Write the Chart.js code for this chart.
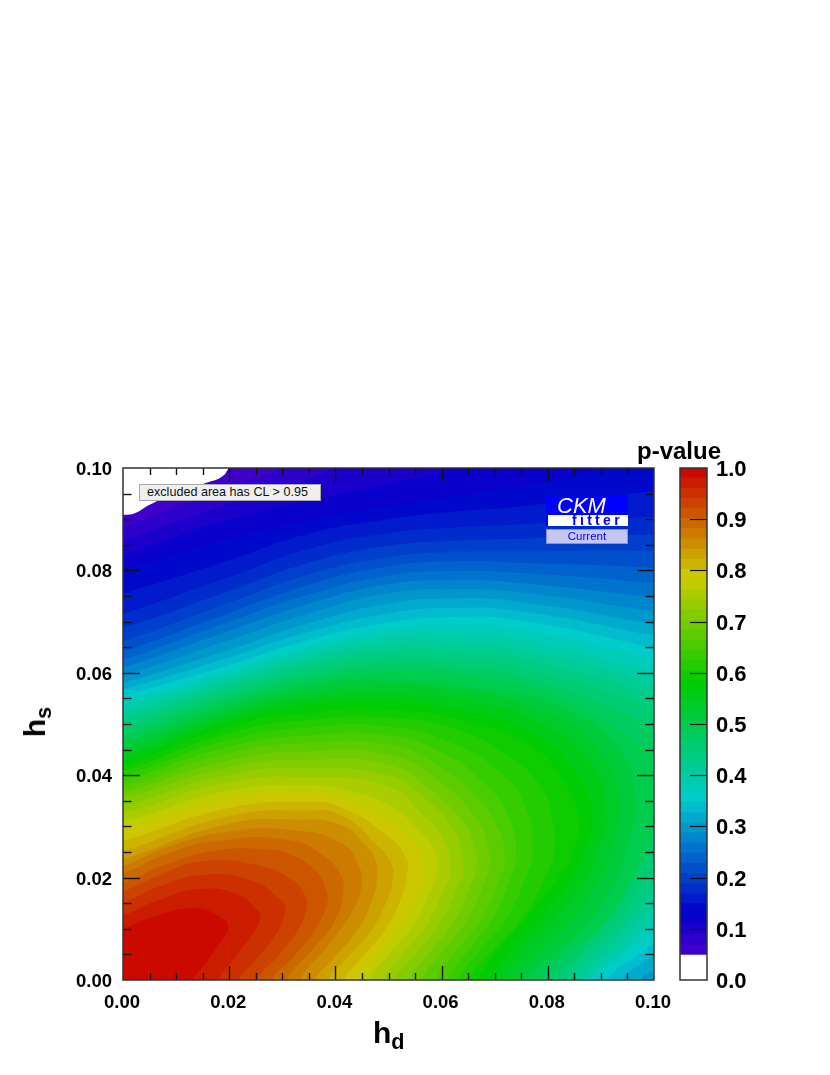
<!DOCTYPE html>
<html>
<head>
<meta charset="utf-8">
<title>p-value</title>
<script src="https://cdn.jsdelivr.net/npm/chart.js@4/dist/chart.umd.min.js"></script>
<style>
    html, body { margin: 0; padding: 0; background: #fff; }
    body { position: relative; width: 830px; height: 1075px; overflow: hidden; font-family: "Liberation Sans", Arial, sans-serif; color: #000; }
    canvas { position: absolute; }
    .label { position: absolute; white-space: nowrap; font-weight: bold; line-height: 1; }
    .label sub { font-size: 0.72em; vertical-align: baseline; position: relative; top: 0.3em; }
    #note { position: absolute; left: 139px; top: 484px; width: 180px; height: 15px; background: #efefef; border: 1px solid #aaa; font-size: 12.6px; line-height: 15px; text-indent: 7px; color: #111; }
    #logo { position: absolute; left: 546px; top: 495px; width: 82px; height: 31px; background: #00f; }
    #logo .ckm { position: absolute; left: 11px; top: 0; font-size: 22px; font-style: italic; color: #fff; line-height: 22px; }
    #logo .fitter { position: absolute; left: 2px; top: 20px; width: 80px; height: 11px; background: #fff; color: #00f; font-size: 14px; font-weight: bold; line-height: 11px; letter-spacing: 3.3px; text-indent: 24px; }
    #current { position: absolute; left: 546px; top: 529px; width: 80px; height: 13px; background: #c6c6f2; border: 1px solid #8e8ee0; color: #00f; font-size: 11.5px; line-height: 13px; text-align: center; }
</style>
</head>
<body>
<canvas id="mainChart" width="690" height="600" style="left:0;top:440px"></canvas>
<canvas id="barChart" width="170" height="600" style="left:660px;top:440px"></canvas>
<div class="label" style="left:637px;top:439px;font-size:24px">p-value</div>
<div class="label" style="left:373px;top:1018px;font-size:30px">h<sub>d</sub></div>
<div class="label" style="left:35px;top:722px;font-size:30px;transform:translate(-50%,-50%) rotate(-90deg)">h<sub>s</sub></div>
<div id="note">excluded area has CL &gt; 0.95</div>
<div id="logo"><span class="ckm">CKM</span><div class="fitter">fitter</div></div>
<div id="current">Current</div>
<script>
// lower edge of each colour band of the p-value scale
const bandLevels = [
    0.0500, 0.0698, 0.0896, 0.1094, 0.1292, 0.1490, 0.1688, 0.1886, 0.2084, 0.2282, 0.2480, 0.2678,
    0.2876, 0.3074, 0.3272, 0.3470, 0.3668, 0.3866, 0.4064, 0.4262, 0.4460, 0.4658, 0.4856, 0.5054,
    0.5252, 0.5450, 0.5648, 0.5846, 0.6044, 0.6242, 0.6440, 0.6638, 0.6836, 0.7034, 0.7232, 0.7430,
    0.7628, 0.7826, 0.8024, 0.8222, 0.8420, 0.8618, 0.8816, 0.9014, 0.9212, 0.9410, 0.9608, 0.9806,
];
const bandTop = 1.0;

// iso-p contours, [hd, hs], one outline per band level.
// Outlines run past the frame so that the fill reaches the axes.
const contours = [
    [[-.01,-.01],[-.004,.0905],[0,.0908],[.0023,.0912],[.005,.0928],[.0101,.0951],[.0157,.0971],[.0186,.0983],[.0198,.0998],[.022,.104],[.11,.11],[.11,-.01]],
    [[-.01,-.01],[-.004,.0878],[0,.0885],[.01,.0925],[.02,.0965],[.03,.1],[.033,.103],[.11,.11],[.11,-.01]],
    [[-.01,-.01],[-.004,.0853],[0,.086],[.01,.0895],[.02,.093],[.04,.1],[.043,.103],[.11,.11],[.11,-.01]],
    [[-.01,-.01],[-.004,.0822],[0,.083],[.02,.09],[.05,.097],[.062,.1],[.066,.103],[.11,.11],[.11,-.01]],
    [[-.01,-.01],[-.004,.0792],[0,.08],[.02,.0862],[.035,.0897],[.05,.0925],[.075,.0965],[.09,.1],[.094,.103],[.11,.11],[.11,-.01]],
    [[-.01,-.01],[-.004,.0745],[0,.0755],[.02,.082],[.035,.0872],[.05,.09],[.0625,.0915],[.075,.0925],[.1,.0955],[.104,.096],[.11,-.01]],
    [[-.01,-.01],[-.004,.0705],[0,.0715],[.02,.0787],[.035,.0842],[.05,.0873],[.0625,.0884],[.075,.089],[.1,.0905],[.104,.0905],[.11,-.01]],
    [[-.01,-.01],[-.004,.068],[0,.0688],[.02,.076],[.035,.0815],[.05,.0848],[.0625,.0858],[.075,.0862],[.1,.087],[.104,.0865],[.11,-.01]],
    [[-.01,-.01],[-.004,.0655],[0,.0662],[.02,.0737],[.035,.0792],[.05,.0826],[.0625,.0836],[.075,.0837],[.1,.0838],[.104,.0832],[.11,-.01]],
    [[-.01,-.01],[-.004,.0635],[0,.0642],[.02,.0717],[.035,.0772],[.05,.0808],[.0625,.0818],[.075,.0815],[.1,.0805],[.104,.0798],[.11,-.01]],
    [[-.01,-.01],[-.004,.0618],[0,.0625],[.02,.07],[.035,.0753],[.05,.079],[.0625,.0799],[.075,.0795],[.1,.0775],[.104,.0768],[.11,-.01]],
    [[-.01,-.01],[-.004,.0603],[0,.061],[.02,.0682],[.035,.0735],[.05,.0773],[.0625,.0781],[.075,.0775],[.1,.0747],[.104,.074],[.11,-.01]],
    [[-.01,-.01],[-.004,.0588],[0,.0595],[.02,.0664],[.035,.0716],[.05,.0755],[.0625,.0763],[.075,.0757],[.1,.072],[.104,.0712],[.11,-.01]],
    [[-.01,-.01],[-.004,.0573],[0,.058],[.02,.0645],[.035,.0697],[.05,.0735],[.0625,.0745],[.075,.0738],[.1,.0695],[.104,.0685],[.104,.003],[.1,.0018],[.0975,0],[.097,-.004]],
    [[-.01,-.01],[-.004,.0561],[0,.0568],[.02,.063],[.035,.068],[.05,.0716],[.0625,.0727],[.075,.072],[.1,.0672],[.104,.066],[.104,.006],[.1,.0047],[.097,.0028],[.094,0],[.0935,-.004]],
    [[-.01,-.01],[-.004,.0549],[0,.0556],[.02,.0615],[.035,.0664],[.05,.0698],[.0625,.0709],[.075,.0702],[.1,.0648],[.104,.0635],[.104,.0085],[.1,.007],[.0962,.0044],[.0912,0],[.0905,-.004]],
    [[-.01,-.01],[-.004,.0538],[0,.0545],[.02,.0605],[.035,.0653],[.05,.0685],[.0625,.0692],[.075,.0684],[.1,.0625],[.104,.061],[.104,.011],[.1,.0093],[.0955,.0058],[.089,0],[.0885,-.004]],
    [[-.01,-.01],[-.004,.0526],[0,.0533],[.02,.0595],[.035,.0641],[.05,.0671],[.0625,.0675],[.075,.0665],[.1,.06],[.104,.0585],[.104,.013],[.1,.0115],[.0955,.0072],[.0876,0],[.087,-.004]],
    [[-.01,-.01],[-.004,.0514],[0,.0521],[.02,.0585],[.035,.063],[.05,.0657],[.0625,.0658],[.075,.0645],[.1,.058],[.104,.056],[.104,.016],[.1,.0143],[.095,.0088],[.086,0],[.0855,-.004]],
    [[-.01,-.01],[-.004,.0503],[0,.051],[.02,.0575],[.035,.0618],[.05,.0643],[.0625,.0641],[.075,.0628],[.1,.0555],[.104,.053],[.104,.02],[.1,.0175],[.0945,.0105],[.0843,0],[.0838,-.004]],
    [[-.01,-.01],[-.004,.0491],[0,.0498],[.02,.0565],[.035,.0607],[.05,.0629],[.0625,.0625],[.075,.061],[.1,.053],[.104,.05],[.104,.0235],[.1,.0215],[.0935,.012],[.0825,0],[.082,-.004]],
    [[-.01,-.01],[-.004,.0479],[0,.0486],[.02,.0555],[.035,.0595],[.05,.0615],[.0625,.0609],[.075,.0593],[.1,.0495],[.104,.046],[.104,.0275],[.1,.0255],[.0925,.0135],[.0855,.005],[.0807,0],[.08,-.004]],
    [[-.01,-.01],[-.004,.0467],[0,.0474],[.02,.0545],[.035,.0584],[.05,.0602],[.07,.0585],[.085,.054],[.1,.044],[.104,.043],[.104,.03],[.1,.0285],[.0957,.0195],[.09,.0105],[.0825,.0045],[.0787,0],[.078,-.004]],
    [[-.01,-.01],[-.004,.0455],[0,.0462],[.02,.0535],[.035,.0573],[.05,.0588],[.07,.0565],[.082,.0535],[.0925,.046],[.0965,.036],[.095,.0265],[.0927,.0195],[.087,.0105],[.08,.004],[.0764,0],[.0757,-.004]],
    [[-.01,-.01],[-.004,.0443],[0,.045],[.02,.0525],[.035,.0561],[.05,.0574],[.065,.0562],[.08,.052],[.09,.0445],[.0935,.034],[.092,.026],[.0897,.0195],[.084,.011],[.0775,.0045],[.0738,0],[.0731,-.004]],
    [[-.01,-.01],[-.004,.0432],[0,.0439],[.02,.0515],[.035,.055],[.05,.0559],[.065,.0545],[.078,.0505],[.0875,.043],[.091,.033],[.0895,.026],[.087,.0195],[.081,.0115],[.075,.005],[.0713,0],[.0706,-.004]],
    [[-.01,-.01],[-.004,.0421],[0,.0428],[.02,.0505],[.035,.0538],[.05,.0544],[.065,.0525],[.0775,.048],[.085,.041],[.0885,.032],[.087,.0255],[.0843,.0195],[.0785,.012],[.0725,.005],[.069,0],[.0683,-.004]],
    [[-.01,-.01],[-.004,.0411],[0,.0418],[.02,.0495],[.035,.0522],[.05,.0528],[.065,.0505],[.0765,.046],[.0825,.0395],[.0858,.031],[.0845,.0245],[.0817,.0195],[.0761,.0123],[.0705,.0055],[.0668,0],[.0661,-.004]],
    [[-.01,-.01],[-.004,.0401],[0,.0408],[.02,.0482],[.035,.0508],[.05,.0512],[.0625,.049],[.073,.0435],[.0785,.038],[.0805,.033],[.0812,.0256],[.08,.0213],[.076,.0133],[.0699,.0059],[.065,0],[.0643,-.004]],
    [[-.01,-.01],[-.004,.0391],[0,.0398],[.02,.0469],[.035,.0493],[.05,.0495],[.062,.0462],[.071,.0405],[.0757,.034],[.0772,.0248],[.0761,.0207],[.0727,.013],[.0673,.0058],[.063,0],[.0623,-.004]],
    [[-.01,-.01],[-.004,.0381],[0,.0388],[.02,.0456],[.035,.0478],[.05,.0478],[.06,.0445],[.068,.0385],[.0727,.0318],[.0741,.024],[.0731,.0202],[.0699,.0126],[.0649,.0056],[.061,0],[.0603,-.004]],
    [[-.01,-.01],[-.004,.037],[0,.0377],[.02,.0443],[.035,.0463],[.05,.046],[.0585,.0425],[.0658,.0365],[.0705,.0298],[.0719,.0234],[.0709,.0197],[.0677,.0123],[.0627,.0055],[.0588,0],[.0581,-.004]],
    [[-.01,-.01],[-.004,.0359],[0,.0366],[.02,.0429],[.035,.0447],[.05,.044],[.06,.0385],[.0668,.0312],[.0685,.027],[.0691,.0228],[.0681,.0193],[.065,.0121],[.0601,.0054],[.0563,0],[.0556,-.004]],
    [[-.01,-.01],[-.004,.0347],[0,.0354],[.02,.0415],[.035,.043],[.05,.042],[.058,.037],[.0645,.0302],[.066,.0265],[.0666,.0222],[.0656,.0189],[.0625,.0118],[.0576,.0052],[.0538,0],[.0531,-.004]],
    [[-.01,-.01],[-.004,.0333],[0,.034],[.02,.0401],[.035,.0413],[.05,.04],[.0565,.0358],[.0625,.0292],[.0635,.026],[.0641,.0216],[.0631,.0184],[.06,.0115],[.0551,.0051],[.0512,0],[.0505,-.004]],
    [[-.01,-.01],[-.004,.0318],[0,.0325],[.02,.0386],[.035,.0396],[.05,.0378],[.0565,.0322],[.0605,.0272],[.0616,.021],[.0606,.018],[.0575,.0113],[.0526,.005],[.0487,0],[.048,-.004]],
    [[-.01,-.01],[-.004,.0302],[0,.0309],[.02,.037],[.035,.038],[.041,.0373],[.05,.0342],[.0555,.0295],[.0588,.025],[.059,.0204],[.058,.0176],[.0549,.011],[.05,.0049],[.0462,0],[.0455,-.004]],
    [[-.01,-.01],[-.004,.0286],[0,.0293],[.02,.0352],[.035,.0365],[.041,.0355],[.05,.0313],[.054,.0278],[.0561,.0246],[.0563,.0195],[.0553,.017],[.0524,.0106],[.0477,.0047],[.044,0],[.0433,-.004]],
    [[-.01,-.01],[-.004,.0265],[0,.0272],[.02,.0336],[.035,.0348],[.041,.0338],[.05,.028],[.0533,.0238],[.0535,.0208],[.0525,.0164],[.0497,.0103],[.0452,.0046],[.0416,0],[.0409,-.004]],
    [[-.01,-.01],[-.004,.0245],[0,.0252],[.02,.032],[.035,.0331],[.041,.0322],[.048,.0262],[.0506,.0225],[.0508,.02],[.0498,.0158],[.0469,.0099],[.0423,.0044],[.0386,0],[.0379,-.004]],
    [[-.01,-.01],[-.004,.0229],[0,.0236],[.02,.0305],[.033,.0313],[.041,.0303],[.0455,.0265],[.0476,.0232],[.0478,.0195],[.0469,.0155],[.0441,.0097],[.0397,.0043],[.0362,0],[.0355,-.004]],
    [[-.01,-.01],[-.004,.0215],[0,.0222],[.009,.0262],[.02,.029],[.0315,.0293],[.041,.0268],[.0445,.022],[.0449,.0185],[.0435,.014],[.039,.0072],[.0333,0],[.0326,-.004]],
    [[-.01,-.01],[-.004,.0201],[0,.0208],[.008,.0245],[.018,.0272],[.0315,.0273],[.038,.0241],[.041,.0205],[.0415,.0175],[.04,.0118],[.0355,.0057],[.0308,0],[.0301,-.004]],
    [[-.01,-.01],[-.004,.0184],[0,.0191],[.008,.0225],[.017,.0252],[.027,.0255],[.0315,.0245],[.0365,.021],[.0382,.0178],[.0384,.015],[.0365,.0105],[.0325,.005],[.028,0],[.0273,-.004]],
    [[-.01,-.01],[-.004,.0166],[0,.0173],[.007,.0205],[.015,.0232],[.025,.0225],[.032,.0195],[.0342,.0165],[.0346,.0145],[.0333,.0104],[.0296,.0052],[.0252,0],[.0245,-.004]],
    [[-.01,-.01],[-.004,.0144],[0,.0151],[.007,.0183],[.015,.0205],[.024,.0195],[.0298,.0155],[.0305,.0135],[.0289,.0092],[.0245,.0033],[.0217,0],[.021,-.004]],
    [[-.01,-.01],[-.004,.0119],[0,.0126],[.007,.0157],[.015,.0178],[.0215,.0167],[.0252,.0138],[.0258,.012],[.0245,.0092],[.0207,.0039],[.018,0],[.0173,-.004]],
    [[-.01,-.01],[-.004,.0094],[0,.0101],[.0057,.0123],[.0132,.014],[.018,.0125],[.0198,.0104],[.0177,.0065],[.0155,.0032],[.0132,0],[.0125,-.004]],
];

// tick positions
const majorTicks = [0, 0.02, 0.04, 0.06, 0.08, 0.1];
const minorTicks = [0.005, 0.01, 0.015, 0.025, 0.03, 0.035, 0.045, 0.05, 0.055, 0.065, 0.07, 0.075, 0.085, 0.09, 0.095];
const barTicks = [0.1, 0.2, 0.3, 0.4, 0.5, 0.6, 0.7, 0.8, 0.9];

// palette anchors of the colour scale
const paletteValues = [0.05, 0.13, 0.355, 0.58, 0.787, 1.0];
const paletteColors = [[72, 0, 204], [0, 0, 204], [0, 204, 204], [0, 204, 0], [204, 204, 0], [204, 0, 0]];

function bandColor(k) {
    const upper = k + 1 < bandLevels.length ? bandLevels[k + 1] : bandTop;
    const mid = (bandLevels[k] + upper) / 2;
    let i = 0;
    while (i < paletteValues.length - 2 && mid > paletteValues[i + 1]) i++;
    const t = (mid - paletteValues[i]) / (paletteValues[i + 1] - paletteValues[i]);
    const rgb = paletteColors[i].map((c, n) => Math.round(c + (paletteColors[i + 1][n] - c) * t));
    return `rgb(${rgb[0]},${rgb[1]},${rgb[2]})`;
}

// ROOT style frame with ticks pointing inwards
const frameTicks = {
    id: 'frameTicks',
    afterDatasetsDraw(chart) {
        const { ctx, chartArea: a, scales: { x, y } } = chart;
        const line = (x1, y1, x2, y2) => {
            ctx.beginPath();
            ctx.moveTo(x1, y1);
            ctx.lineTo(x2, y2);
            ctx.stroke();
        };
        ctx.save();
        ctx.strokeStyle = '#111';
        ctx.lineWidth = 1.4;
        const mark = (v, lenX, lenY) => {
            const px = Math.round(x.getPixelForValue(v)) + 0.5;
            const py = Math.round(y.getPixelForValue(v)) + 0.5;
            line(px, a.bottom, px, a.bottom - lenX);
            line(px, a.top, px, a.top + lenX);
            line(a.left, py, a.left + lenY, py);
            line(a.right, py, a.right - lenY, py);
        };
        majorTicks.slice(1, -1).forEach(v => mark(v, 14, 17));
        minorTicks.forEach(v => mark(v, 7, 8.5));
        ctx.strokeStyle = '#333';
        ctx.lineWidth = 1.5;
        ctx.strokeRect(a.left, a.top, a.right - a.left, a.bottom - a.top);
        ctx.restore();
    }
};

const barFrame = {
    id: 'barFrame',
    afterDatasetsDraw(chart) {
        const { ctx, chartArea: a, scales: { y } } = chart;
        ctx.save();
        ctx.strokeStyle = '#111';
        ctx.lineWidth = 1.2;
        barTicks.forEach(v => {
            const py = Math.round(y.getPixelForValue(v)) + 0.5;
            ctx.beginPath();
            ctx.moveTo(a.right, py);
            ctx.lineTo(a.right - 17, py);
            ctx.stroke();
        });
        ctx.strokeStyle = '#333';
        ctx.lineWidth = 1.5;
        ctx.strokeRect(a.left, a.top, a.right - a.left, a.bottom - a.top);
        ctx.restore();
    }
};

new Chart(document.getElementById('mainChart'), {
    type: 'scatter',
    data: {
        datasets: contours.map((outline, k) => ({
            label: 'p > ' + bandLevels[k],
            data: outline.map(p => ({ x: p[0], y: p[1] })),
            showLine: true,
            fill: 'shape',
            backgroundColor: bandColor(k),
            borderWidth: 0,
            pointRadius: 0,
            tension: 0.5,
            order: contours.length - k,
        })),
    },
    options: {
        responsive: false,
        animation: false,
        layout: { padding: { top: 28, right: 36 } },
        plugins: { legend: { display: false }, tooltip: { enabled: false } },
        scales: {
            x: {
                type: 'linear',
                min: 0,
                max: 0.1,
                afterFit: s => { s.height = 60; },
                grid: { display: false, drawTicks: false },
                border: { display: false },
                ticks: {
                    stepSize: 0.02,
                    padding: 12,
                    maxRotation: 0,
                    labelOffset: -1,
                    color: '#000',
                    font: { family: 'Liberation Sans', size: 18.5, weight: 'bold' },
                    callback: v => v.toFixed(2),
                },
            },
            y: {
                type: 'linear',
                min: 0,
                max: 0.1,
                afterFit: s => { s.width = 123; },
                grid: { display: false, drawTicks: false },
                border: { display: false },
                ticks: {
                    stepSize: 0.02,
                    padding: 11,
                    labelOffset: 2,
                    color: '#000',
                    font: { family: 'Liberation Sans', size: 18.5, weight: 'bold' },
                    callback: v => v.toFixed(2),
                },
            },
        },
    },
    plugins: [frameTicks],
});

// colour scale on the right
new Chart(document.getElementById('barChart'), {
    type: 'bar',
    data: {
        labels: ['p-value'],
        datasets: bandLevels.map((lo, k) => ({
            label: String(lo),
            data: [[lo, k + 1 < bandLevels.length ? bandLevels[k + 1] : bandTop]],
            backgroundColor: bandColor(k),
            borderWidth: 0,
            barPercentage: 1,
            categoryPercentage: 1,
            grouped: false,
        })),
    },
    options: {
        responsive: false,
        animation: false,
        layout: { padding: { left: 20, right: 63, top: 28, bottom: 60 } },
        plugins: { legend: { display: false }, tooltip: { enabled: false } },
        scales: {
            x: { display: false },
            y: {
                position: 'right',
                min: 0,
                max: 1,
                afterFit: s => { s.width = 60; },
                grid: { display: false, drawTicks: false },
                border: { display: false },
                ticks: {
                    stepSize: 0.1,
                    padding: 9,
                    labelOffset: 2,
                    color: '#000',
                    font: { family: 'Liberation Sans', size: 22, weight: 'bold' },
                    callback: v => v.toFixed(1),
                },
            },
        },
    },
    plugins: [barFrame],
});
</script>
</body>
</html>
